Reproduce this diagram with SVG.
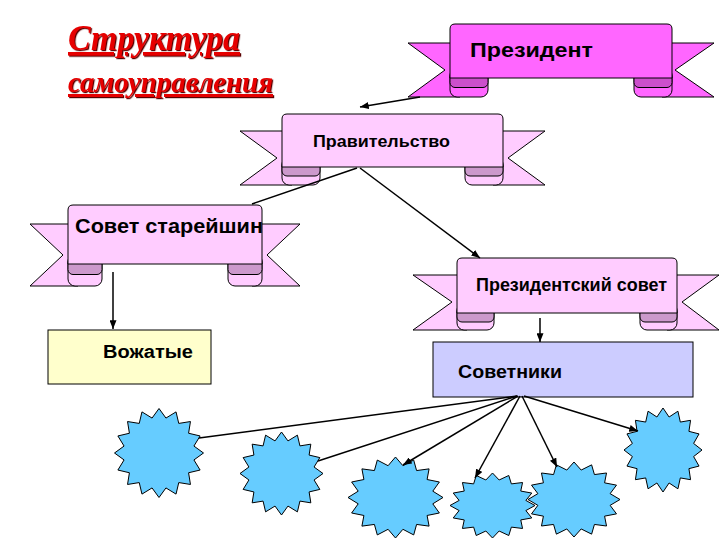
<svg xmlns="http://www.w3.org/2000/svg" xmlns:xlink="http://www.w3.org/1999/xlink" width="720" height="540" viewBox="0 0 720 540">
<defs>
<style>
.rb{fill:#ffccff;stroke:#000;stroke-width:1}
.rd{fill:#cc99cc;stroke:#000;stroke-width:1}
.pres .rb{fill:#ff66ff}
.pres .rd{fill:#cc4fcc}
.lbl{font-family:"Liberation Sans",Arial,sans-serif;font-weight:bold;fill:#000}
.title{font-family:"Liberation Serif","Times New Roman",serif;font-weight:bold;font-style:italic;fill:#e60000;text-decoration:underline}
.box{stroke:#000;stroke-width:1}
.star{fill:#66ccff;stroke:#000;stroke-width:1}
.con{stroke:#000;stroke-width:1.5;fill:none}
</style>
<filter id="sh" x="-5%" y="-5%" width="110%" height="120%">
<feDropShadow dx="1.2" dy="1.2" stdDeviation="0" flood-color="#5a0000"/>
</filter>
<marker id="ar" viewBox="0 0 10 8" refX="10" refY="4" markerWidth="9" markerHeight="7" markerUnits="userSpaceOnUse" orient="auto">
<path d="M0,0 L10,4 L0,8 Z" fill="#000"/>
</marker>
<path id="st" vector-effect="non-scaling-stroke" d="M0,-100 L15.6,-78.5 L38.3,-92.4 L44.4,-66.5 L70.7,-70.7 L66.5,-44.4 L92.4,-38.3 L78.5,-15.6 L100,0 L78.5,15.6 L92.4,38.3 L66.5,44.4 L70.7,70.7 L44.4,66.5 L38.3,92.4 L15.6,78.5 L0,100 L-15.6,78.5 L-38.3,92.4 L-44.4,66.5 L-70.7,70.7 L-66.5,44.4 L-92.4,38.3 L-78.5,15.6 L-100,0 L-78.5,-15.6 L-92.4,-38.3 L-66.5,-44.4 L-70.7,-70.7 L-44.4,-66.5 L-38.3,-92.4 L-15.6,-78.5 Z"/>
</defs>
<rect width="720" height="540" fill="#fff"/>

<g id="title" filter="url(#sh)">
<text class="title" x="68" y="50" font-size="36" textLength="172" lengthAdjust="spacingAndGlyphs">Структура</text>
<text class="title" x="68" y="92" font-size="30" textLength="205" lengthAdjust="spacingAndGlyphs">самоуправления</text>
</g>

<g id="president" class="pres">
<polygon class="rb" points="408,43 460,43 460,97 408,97 445,70"/>
<polygon class="rb" points="714,43 662,43 662,97 714,97 675,70"/>
<rect class="rb" x="450" y="70" width="38" height="27" rx="7"/>
<rect class="rd" x="450" y="70" width="38" height="17.5" rx="5"/>
<rect class="rb" x="634" y="70" width="38" height="27" rx="7"/>
<rect class="rd" x="634" y="70" width="38" height="17.5" rx="5"/>
<path class="rb" d="M450,78 V29 Q450,24 455,24 H667 Q672,24 672,29 V78 Z"/>
<text class="lbl" x="470" y="57" font-size="21" textLength="123" lengthAdjust="spacingAndGlyphs">Президент</text>
</g>

<g id="government">
<polygon class="rb" points="240,131 292,131 292,185 240,185 277,158"/>
<polygon class="rb" points="545,131 493,131 493,185 545,185 508,158"/>
<rect class="rb" x="282" y="159" width="38" height="26" rx="7"/>
<rect class="rd" x="282" y="159" width="38" height="17" rx="5"/>
<rect class="rb" x="465" y="159" width="38" height="26" rx="7"/>
<rect class="rd" x="465" y="159" width="38" height="17" rx="5"/>
<path class="rb" d="M282,167 V119 Q282,114 287,114 H498 Q503,114 503,119 V167 Z"/>
<text class="lbl" x="313" y="147" font-size="17" textLength="137" lengthAdjust="spacingAndGlyphs">Правительство</text>
</g>

<g id="elders">
<polygon class="rb" points="30,224 78,224 78,286 30,286 63,255"/>
<polygon class="rb" points="300,224 252,224 252,286 300,286 267,255"/>
<rect class="rb" x="68" y="256" width="34" height="30" rx="7"/>
<rect class="rd" x="68" y="256" width="34" height="18.5" rx="5"/>
<rect class="rb" x="228" y="256" width="34" height="30" rx="7"/>
<rect class="rd" x="228" y="256" width="34" height="18.5" rx="5"/>
<path class="rb" d="M68,264 V210 Q68,205 73,205 H257 Q262,205 262,210 V264 Z"/>
<text class="lbl" x="75" y="233" font-size="21" textLength="188" lengthAdjust="spacingAndGlyphs">Совет старейшин</text>
</g>

<g id="presidential-council">
<polygon class="rb" points="413,275 467,275 467,330 413,330 452,302"/>
<polygon class="rb" points="719,275 667,275 667,330 719,330 682,302"/>
<rect class="rb" x="457" y="305" width="37" height="25" rx="7"/>
<rect class="rd" x="457" y="305" width="37" height="17" rx="5"/>
<rect class="rb" x="640" y="305" width="37" height="25" rx="7"/>
<rect class="rd" x="640" y="305" width="37" height="17" rx="5"/>
<path class="rb" d="M457,313 V263 Q457,258 462,258 H672 Q677,258 677,263 V313 Z"/>
<text class="lbl" x="476" y="291" font-size="18" textLength="191" lengthAdjust="spacingAndGlyphs">Президентский совет</text>
</g>

<g id="leaders">
<rect class="box" x="48" y="330" width="163" height="54" fill="#ffffcc"/>
<text class="lbl" x="103" y="358" font-size="18" textLength="90" lengthAdjust="spacingAndGlyphs">Вожатые</text>
</g>

<g id="advisors">
<rect class="box" x="433" y="342" width="260" height="55" fill="#ccccff"/>
<text class="lbl" x="458" y="378" font-size="19" textLength="104" lengthAdjust="spacingAndGlyphs">Советники</text>
</g>

<g id="star1"><use class="star" xlink:href="#st" href="#st" transform="translate(159,453) scale(0.445,0.445)"/></g>
<g id="star2"><use class="star" xlink:href="#st" href="#st" transform="translate(281.5,473.5) scale(0.415,0.415)"/></g>
<g id="star3"><use class="star" xlink:href="#st" href="#st" transform="translate(395.5,497.5) scale(0.475,0.405)"/></g>
<g id="star4"><use class="star" xlink:href="#st" href="#st" transform="translate(492.5,505.5) scale(0.425,0.325)"/></g>
<g id="star5"><use class="star" xlink:href="#st" href="#st" transform="translate(574,499.5) scale(0.46,0.375)"/></g>
<g id="star6"><use class="star" xlink:href="#st" href="#st" transform="translate(663,450) scale(0.39,0.42)"/></g>

<g id="connectors">
<line class="con" x1="420" y1="97" x2="360" y2="107" marker-end="url(#ar)"/>
<line class="con" x1="357" y1="168" x2="252" y2="204"/>
<line class="con" x1="360" y1="168" x2="480" y2="258" marker-end="url(#ar)"/>
<line class="con" x1="113" y1="272" x2="113" y2="329" marker-end="url(#ar)"/>
<line class="con" x1="540" y1="318" x2="540" y2="342" stroke-width="2" marker-end="url(#ar)"/>
<line class="con" x1="517" y1="396" x2="199" y2="438"/>
<line class="con" x1="517" y1="396" x2="318" y2="461"/>
<line class="con" x1="518" y1="396" x2="403" y2="465" marker-end="url(#ar)"/>
<line class="con" x1="520" y1="396" x2="475" y2="478" marker-end="url(#ar)"/>
<line class="con" x1="522" y1="396" x2="557" y2="467" marker-end="url(#ar)"/>
<line class="con" x1="524" y1="396" x2="638" y2="431" marker-end="url(#ar)"/>
</g>
</svg>
